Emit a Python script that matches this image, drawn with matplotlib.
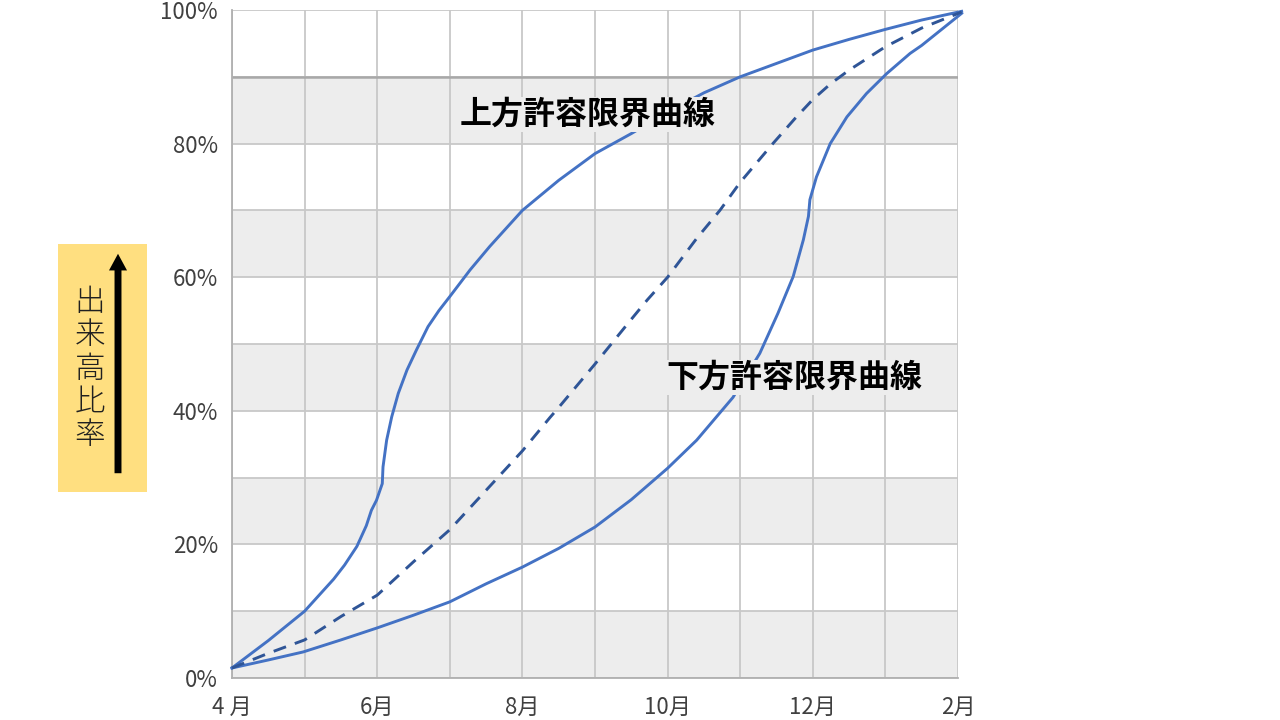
import matplotlib
matplotlib.use('Agg')
import matplotlib.pyplot as plt

plt.rcParams['font.family'] = ['Noto Sans CJK JP', 'DejaVu Sans']

# 月（4月=0 … 2月=10）と出来高比率
upper_x = [0, 0.5, 1.0, 1.4, 1.55, 1.72, 1.85, 1.92, 1.99, 2.07, 2.08, 2.13, 2.20, 2.29, 2.41,
           2.54, 2.70, 2.85, 3.0, 3.28, 3.55, 4.0, 4.5, 5.0, 5.5, 6.0, 6.5, 7.0, 7.5, 8.0, 8.5,
           9.0, 9.5, 10.05]
upper_y = [0.015, 0.056, 0.10, 0.148, 0.169, 0.197, 0.228, 0.251, 0.266, 0.291, 0.316, 0.356,
           0.391, 0.426, 0.461, 0.491, 0.526, 0.550, 0.571, 0.611, 0.646, 0.70, 0.745, 0.785,
           0.815, 0.847, 0.876, 0.90, 0.92, 0.94, 0.956, 0.971, 0.985, 0.998]

plan_x = [0, 0.5, 1.0, 1.5, 2.0, 2.5, 3.0, 3.5, 4.0, 4.38, 4.5, 5.0, 5.5, 5.72, 6.0, 6.4,
          6.72, 7.0, 7.45, 7.75, 8.0, 8.25, 8.5, 9.0, 9.5, 10.05]
plan_y = [0.015, 0.037, 0.057, 0.092, 0.124, 0.174, 0.222, 0.281, 0.34, 0.39, 0.405, 0.47,
          0.537, 0.566, 0.60, 0.658, 0.70, 0.742, 0.80, 0.837, 0.866, 0.89, 0.91, 0.945, 0.973,
          0.997]

lower_x = [0, 0.5, 0.98, 1.5, 2.0, 2.5, 3.0, 3.5, 4.0, 4.5, 5.0, 5.5, 6.0, 6.4, 6.9, 7.27,
           7.52, 7.73, 7.87, 7.94, 7.96, 8.05, 8.24, 8.47, 8.74, 9.02, 9.34, 9.5, 10.05]
lower_y = [0.015, 0.027, 0.039, 0.057, 0.075, 0.094, 0.114, 0.141, 0.166, 0.194, 0.226, 0.267,
           0.314, 0.356, 0.42, 0.486, 0.546, 0.601, 0.656, 0.691, 0.716, 0.75, 0.80, 0.84,
           0.875, 0.905, 0.935, 0.947, 0.995]

xtick_pos = [0, 2, 4, 6, 8, 10]
xtick_labels = ['4 月', '6月', '8月', '10月', '12月', '2月']
ytick_pos = [0, 0.2, 0.4, 0.6, 0.8, 1.0]
ytick_labels = ['0%', '20%', '40%', '60%', '80%', '100%']

fig = plt.figure(figsize=(12.8, 7.2), dpi=100)
ax = fig.add_axes([232 / 1280, 42 / 720, 726 / 1280, 668 / 720])
ax.set_xlim(0, 10)
ax.set_ylim(0, 1)

# 縞模様の背景
for b in [0.0, 0.2, 0.4, 0.6, 0.8]:
    ax.axhspan(b, b + 0.1, color='#ededed', lw=0, zorder=0)

ax.set_xticks(xtick_pos)
ax.set_xticks([1, 3, 5, 7, 9], minor=True)
ax.set_xticklabels(xtick_labels, fontsize=16, color='#404040')
ax.set_yticks(ytick_pos)
ax.set_yticks([0.1, 0.3, 0.5, 0.7, 0.9], minor=True)
ax.set_yticklabels(ytick_labels, fontsize=16, color='#404040')
ax.tick_params(which='both', length=0)
ax.tick_params(axis='x', pad=13)
ax.tick_params(axis='y', pad=10)
ax.grid(True, which='both', color='#c8c8c8', lw=1.3, zorder=1)
ax.set_axisbelow(True)
ax.axhline(0.9, color='#a8a8a8', lw=1.8, zorder=1)
for s in ['top', 'right']:
    ax.spines[s].set_visible(False)
for s in ['left', 'bottom']:
    ax.spines[s].set_color('#b0b0b0')
    ax.spines[s].set_linewidth(1.3)

ax.plot(upper_x, upper_y, color='#4472c4', lw=2.1, zorder=3, clip_on=False,
        solid_joinstyle='round')
ax.plot(lower_x, lower_y, color='#4472c4', lw=2.1, zorder=3, clip_on=False,
        solid_joinstyle='round')
ax.plot(plan_x, plan_y, color='#2f5597', lw=2.1, ls=(0, (4.5, 3.2)), zorder=3, clip_on=False)

box = dict(boxstyle='square,pad=0.05', fc='#ededed', ec='none')
ax.text(4.9, 0.843, '上方許容限界曲線', fontsize=23, fontweight='bold', ha='center', va='center',
        bbox=box, zorder=4)
ax.text(7.75, 0.45, '下方許容限界曲線', fontsize=23, fontweight='bold', ha='center', va='center',
        bbox=box, zorder=4)

# 縦軸ラベル（黄色の箱と矢印）
fig.patches.append(plt.Rectangle((58 / 1280, 228 / 720), 89 / 1280, 248 / 720,
                                 transform=fig.transFigure, fc='#ffdf80', ec='none', zorder=-1))
label = '出来高比率'
for i, ch in enumerate(label):
    fig.text(90 / 1280, 1 - (302 + 33.3 * i) / 720, ch, fontsize=22, fontweight='light',
             ha='center', va='center', color='#202020')
fig.add_artist(plt.Annotation('', xy=(118, 720 - 251), xytext=(118, 720 - 476),
                              xycoords='figure pixels',
                              arrowprops=dict(arrowstyle='simple,head_length=0.6,head_width=0.65,tail_width=0.25',
                                              mutation_scale=20, fc='black', ec='none')))

fig.savefig('out.png', dpi=100)
